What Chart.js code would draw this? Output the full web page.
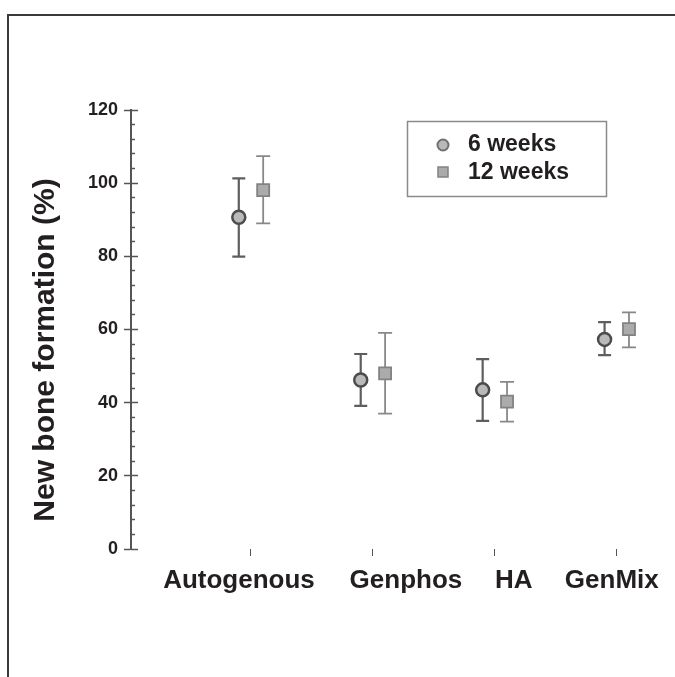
<!DOCTYPE html>
<html>
<head>
<meta charset="utf-8">
<script src="https://cdn.jsdelivr.net/npm/chart.js@4.4.0/dist/chart.umd.min.js"></script>
<style>
  html, body { margin: 0; padding: 0; background: #fff; }
  #wrap { position: relative; width: 675px; height: 677px; overflow: hidden; }
  #frame { position: absolute; left: 7px; top: 14px; width: 720px; height: 720px;
           border-left: 2px solid #3a3a3a; border-top: 2px solid #3a3a3a; }
  #graph { position: absolute; left: 0; top: 0; }
</style>
</head>
<body>
<div id="wrap">
  <div id="frame"></div>
  <canvas id="graph" width="675" height="677"></canvas>
</div>
<script>
// values
const categories = ['Autogenous', 'Genphos', 'HA', 'GenMix'];
const seriesNames = ['6 weeks', '12 weeks'];

const mean6 = [90.7, 46.2, 43.5, 57.3];
const low6 = [79.9, 39.1, 35.0, 53.0];
const high6 = [101.3, 53.3, 51.9, 62.0];

const mean12 = [98.1, 48.0, 40.3, 60.1];
const low12 = [89.0, 37.0, 34.8, 55.1];
const high12 = [107.4, 59.1, 45.7, 64.7];

const yMajor = [0, 20, 40, 60, 80, 100, 120];
const yTitle = 'New bone formation (%)';

// layout
const shift6 = -0.1;
const shift12 = 0.1;
const labelShift = [-12, 33, 19, -5];
const xMin = 0.016, xMax = 4.393;
const font = '"Liberation Sans", Arial, Helvetica, sans-serif';

Chart.defaults.font.family = font;

function markerData(values, shift) {
    return values.map((v, i) => ({ x: i + 1 + shift, y: v }));
}

function errorData(low, high, shift) {
    let pts = [];
    categories.forEach((c, i) => {
        pts.push({ x: i + 1 + shift, y: low[i] });
        pts.push({ x: i + 1 + shift, y: high[i] });
        pts.push({ x: i + 1 + shift, y: null });
    });
    return pts;
}

let minorTicks = [];
for (let v = 0; v <= 120; v += 4) {
    if (v % 20 != 0) minorTicks.push(v);
}

const extras = {
    id: 'extras',
    afterDraw(chart) {
        const ctx = chart.ctx;
        const x = chart.scales.x;
        ctx.save();

        // category labels
        ctx.fillStyle = '#231f20';
        ctx.font = 'bold 26px ' + font;
        ctx.textAlign = 'center';
        ctx.textBaseline = 'alphabetic';
        categories.forEach((name, i) => {
            ctx.fillText(name, x.getPixelForValue(i + 1) + labelShift[i], 588);
        });

        // legend
        ctx.strokeStyle = '#8a8a8a';
        ctx.lineWidth = 1.5;
        ctx.strokeRect(407.5, 121.5, 199, 75);
        const ds = chart.data.datasets;
        ctx.beginPath();
        ctx.arc(443, 145, 5.5, 0, Math.PI * 2);
        ctx.fillStyle = ds[2].backgroundColor;
        ctx.fill();
        ctx.strokeStyle = '#707070';
        ctx.lineWidth = 2;
        ctx.stroke();
        ctx.fillStyle = ds[3].backgroundColor;
        ctx.fillRect(438, 167, 10, 10);
        ctx.strokeStyle = ds[3].borderColor;
        ctx.lineWidth = 1.5;
        ctx.strokeRect(438, 167, 10, 10);

        ctx.fillStyle = '#231f20';
        ctx.font = 'bold 23px ' + font;
        ctx.textAlign = 'left';
        ctx.textBaseline = 'middle';
        ctx.fillText(seriesNames[0], 468, 145);
        ctx.fillText(seriesNames[1], 468, 173);

        // y title
        ctx.translate(46, 350);
        ctx.rotate(-Math.PI / 2);
        ctx.textAlign = 'center';
        ctx.font = 'bold 30px ' + font;
        ctx.fillText(yTitle, 0, 0);

        ctx.restore();
    }
};

const canvas = document.getElementById('graph');
const graph = new Chart(canvas.getContext('2d'), {
    type: 'scatter',
    data: {
        datasets: [
            {
                label: seriesNames[0] + ' error',
                data: errorData(low6, high6, shift6),
                showLine: true,
                spanGaps: false,
                borderColor: '#5e5e5e',
                borderWidth: 2.2,
                pointStyle: 'line',
                pointRadius: 6.5,
                pointHoverRadius: 6.5,
                pointBorderColor: '#5e5e5e',
                pointBorderWidth: 2.2,
                order: 2
            },
            {
                label: seriesNames[1] + ' error',
                data: errorData(low12, high12, shift12),
                showLine: true,
                spanGaps: false,
                borderColor: '#888888',
                borderWidth: 1.8,
                pointStyle: 'line',
                pointRadius: 7,
                pointHoverRadius: 7,
                pointBorderColor: '#888888',
                pointBorderWidth: 1.8,
                order: 2
            },
            {
                label: seriesNames[0],
                data: markerData(mean6, shift6),
                pointStyle: 'circle',
                pointRadius: 6.5,
                pointHoverRadius: 6.5,
                backgroundColor: '#b9b9b9',
                borderColor: '#4c4c4c',
                borderWidth: 2.5,
                order: 1
            },
            {
                label: seriesNames[1],
                data: markerData(mean12, shift12),
                pointStyle: 'rect',
                pointRadius: 8.5,
                pointHoverRadius: 8.5,
                backgroundColor: '#ababab',
                borderColor: '#828282',
                borderWidth: 1.8,
                order: 1
            }
        ]
    },
    options: {
        responsive: false,
        animation: false,
        events: [],
        layout: { padding: { top: 110, right: 1, left: 0, bottom: 0 } },
        plugins: {
            legend: { display: false },
            tooltip: { enabled: false }
        },
        scales: {
            x: {
                type: 'linear',
                min: xMin,
                max: xMax,
                afterBuildTicks: s => { s.ticks = categories.map((c, i) => ({ value: i + 1 })); },
                afterFit: s => { s.height = 128; },
                border: { display: false },
                grid: { drawOnChartArea: false, tickLength: 7, tickColor: '#555', tickWidth: 1 },
                ticks: { display: false }
            },
            y: {
                type: 'linear',
                position: 'left',
                min: 0,
                max: 120,
                afterBuildTicks: s => { s.ticks = yMajor.map(v => ({ value: v })); },
                afterFit: s => { s.width = 131; },
                border: { display: true, color: '#555', width: 2 },
                grid: { drawOnChartArea: false, tickLength: 7, tickColor: '#555', tickWidth: 1.5 },
                ticks: {
                    color: '#231f20',
                    padding: 6,
                    font: { size: 18, weight: 'bold' }
                }
            },
            yIn: {
                type: 'linear',
                position: { x: xMin },
                min: 0,
                max: 120,
                afterBuildTicks: s => { s.ticks = yMajor.map(v => ({ value: v })); },
                border: { display: false },
                grid: { drawOnChartArea: false, tickLength: -7, tickColor: '#555', tickWidth: 1.5 },
                ticks: { display: false }
            },
            yMinor: {
                type: 'linear',
                position: { x: xMin },
                min: 0,
                max: 120,
                afterBuildTicks: s => { s.ticks = minorTicks.map(v => ({ value: v })); },
                border: { display: false },
                grid: { drawOnChartArea: false, tickLength: -4, tickColor: '#555', tickWidth: 1.5 },
                ticks: { display: false }
            }
        }
    },
    plugins: [extras]
});
</script>
</body>
</html>
